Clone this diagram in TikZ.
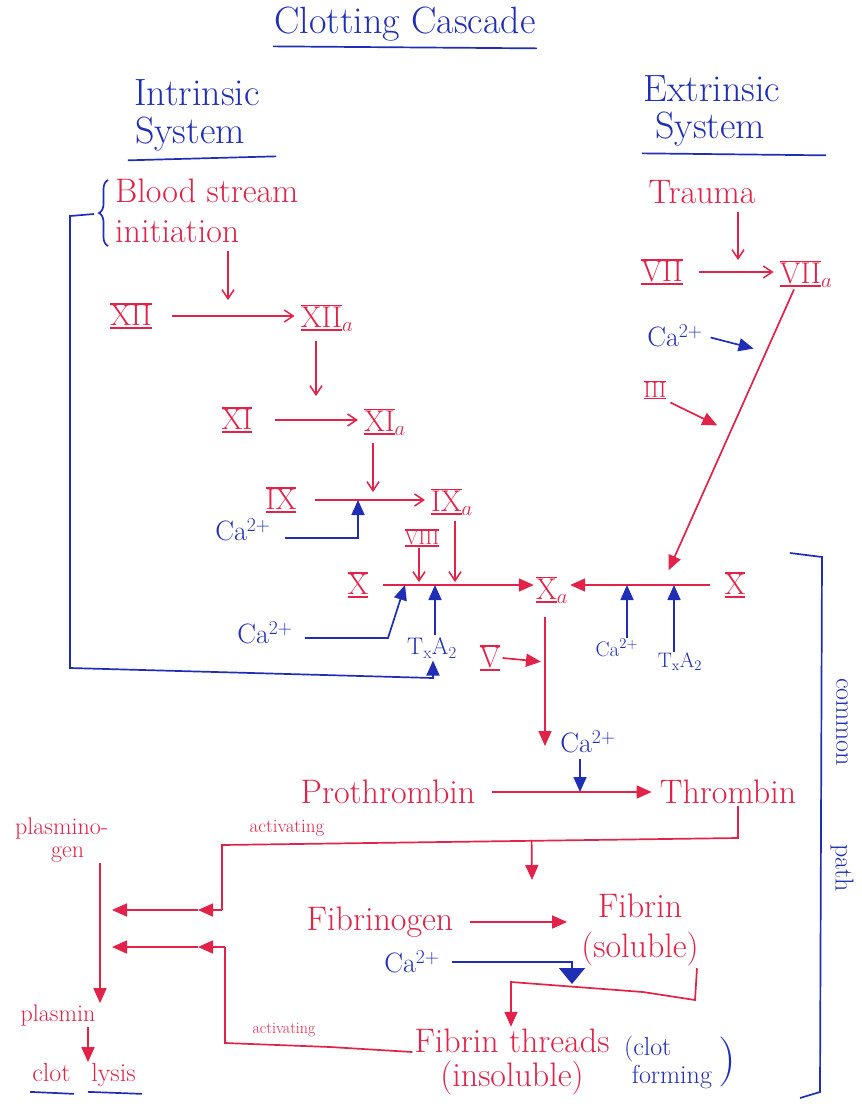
\documentclass[tikz,border=0pt]{standalone}
\usetikzlibrary{arrows.meta}
\usetikzlibrary{decorations.pathreplacing}
\definecolor{penred}{RGB}{226,34,72}
\definecolor{penblue}{RGB}{32,46,182}
\newcommand{\romn}[1]{\setbox0=\hbox{#1}\rlap{\rule[-0.1em]{\wd0}{0.055em}}\rlap{\rule[\dimexpr\ht0+0.02em\relax]{\wd0}{0.055em}}\box0}
\tikzset{
  hdr/.style={text=penblue, font=\fontsize{38}{44}\selectfont, inner sep=1pt},
  lbl/.style={text=penred, font=\fontsize{34}{40}\selectfont, inner sep=2pt},
  rom/.style={text=penred, font=\fontsize{30}{36}\selectfont, inner sep=2pt},
  tiny/.style={text=penred, font=\fontsize{20}{24}\selectfont, inner sep=1pt},
  sml/.style={text=penred, font=\fontsize{24}{24}\selectfont, inner sep=1pt},
  act/.style={text=penred, font=\fontsize{19}{22}\selectfont, inner sep=1pt},
  ca/.style={text=penblue, font=\fontsize{28}{32}\selectfont, inner sep=2pt},
  casm/.style={text=penblue, font=\fontsize{21}{24}\selectfont, inner sep=1pt},
  note/.style={text=penblue, font=\fontsize{26}{32}\selectfont, inner sep=1pt},
  rline/.style={draw=penred, line width=1.7pt},
  bline/.style={draw=penblue, line width=1.7pt},
  rthin/.style={rline, -{Straight Barb[length=9pt,width=12pt,line width=1.5pt]}},
  rarr/.style={rline, -{Triangle[length=15pt,width=13pt]}},
  barr/.style={bline, -{Triangle[length=15pt,width=13pt]}}
}

\begin{document}
\begin{tikzpicture}[x=1pt,y=-1pt]
  \useasboundingbox (0,0) rectangle (862,1104);

  % 坐标点定义
  \coordinate (jvii) at (738,272);
  \coordinate (jxii) at (228,316);
  \coordinate (jxi) at (316,420);
  \coordinate (jix) at (373,500);
  \coordinate (jixc) at (358,500);
  \coordinate (jx1) at (419,585);
  \coordinate (jx2) at (455,585);
  \coordinate (jxc) at (405,585);
  \coordinate (jxt) at (435,585);
  \coordinate (jxr) at (662,585);
  \coordinate (jxrc) at (627,585);
  \coordinate (jxrt) at (674,585);
  \coordinate (jpro) at (545,792);
  \coordinate (jproc) at (580,792);
  \coordinate (kB) at (388,638);
  \coordinate (bt) at (94,214);
  \coordinate (bk1) at (70,216);
  \coordinate (bk2) at (70,668);
  \coordinate (bk3) at (433,678);
  \coordinate (tA) at (738,838);
  \coordinate (tB) at (222,845);
  \coordinate (tC) at (222,910);
  \coordinate (tD) at (198,910);
  \coordinate (tE) at (112,910);
  \coordinate (jfbT) at (532,880);
  \coordinate (fA) at (697,965);
  \coordinate (fB) at (695,1000);
  \coordinate (fC) at (643,992);
  \coordinate (fD) at (511,982);
  \coordinate (cB) at (572,984);
  \coordinate (gA) at (330,1047);
  \coordinate (gB) at (225,1043);
  \coordinate (gC) at (225,947);
  \coordinate (gD) at (198,947);
  \coordinate (gE) at (112,947);
  \coordinate (pX) at (100,900);
  \coordinate (lX) at (88,1040);

  % 标题
  \node [hdr] (title) at (405,24) {Clotting Cascade};
  \node [hdr] (intrA) at (197,93) {Intrinsic};
  \node [hdr] (intrB) at (190,134) {System};
  \node [hdr] (extrA) at (712,89) {Extrinsic};
  \node [hdr] (extrB) at (710,129) {System};

  % 内源途径
  \node [lbl, anchor=west, align=left] (blood) at (113,211) {Blood stream\\initiation};
  \node [rom] (xii) at (131,316) {\romn{XII}};
  \node [rom] (xiia) at (327,318) {\romn{XII}$_a$};
  \node [rom] (xi) at (237,420) {\romn{XI}};
  \node [rom] (xia) at (385,422) {\romn{XI}$_a$};
  \node [rom] (ix) at (281,500) {\romn{IX}};
  \node [rom] (ixa) at (452,502) {\romn{IX}$_a$};
  \node [tiny] (viii) at (422,538) {\romn{VIII}};
  \node [rom] (xl) at (358,585) {\romn{X}};
  \node [rom] (xa) at (552,590) {\romn{X}$_a$};
  \node [ca] (caA) at (243,530) {Ca\textsuperscript{2+}};
  \node [ca] (caB) at (265,633) {Ca\textsuperscript{2+}};
  \node [ca, font=\fontsize{24}{28}\selectfont] (txA) at (432,648) {T\textsubscript{x}A\textsubscript{2}};

  % 外源途径
  \node [lbl] (trauma) at (702,192) {Trauma};
  \node [rom] (vii) at (662,272) {\romn{VII}};
  \node [rom] (viia) at (806,274) {\romn{VII}$_a$};
  \node [ca] (caC) at (675,336) {Ca\textsuperscript{2+}};
  \node [rom, font=\fontsize{22}{26}\selectfont] (iii) at (655,390) {\romn{III}};
  \node [rom] (xr) at (735,585) {\romn{X}};
  \node [casm] (caD) at (617,648) {Ca\textsuperscript{2+}};
  \node [casm] (txB) at (680,662) {T\textsubscript{x}A\textsubscript{2}};

  % 共同途径
  \node [rom] (v) at (490,658) {\romn{V}};
  \node [ca] (caE) at (588,742) {Ca\textsuperscript{2+}};
  \node [lbl] (pro) at (388,792) {Prothrombin};
  \node [lbl] (thr) at (728,792) {Thrombin};
  \node [lbl] (fbg) at (380,922) {Fibrinogen};
  \node [lbl, align=center] (fib) at (640,930) {Fibrin\\(soluble)};
  \node [ca] (caF) at (412,962) {Ca\textsuperscript{2+}};
  \node [lbl, align=center] (fthr) at (512,1062) {Fibrin threads\\[-6pt](insoluble)};
  \node [note, align=left] (clot) at (668,1062) {(clot\\[-4pt]\hspace*{0.3em}forming};
  \node [note, font=\fontsize{50}{50}\selectfont] (paren) at (727,1062) {)};
  \node [note, rotate=-90] (comA) at (842,722) {common};
  \node [note, rotate=-90] (comB) at (842,868) {path};

  % 纤溶
  \node [sml, anchor=west, align=left] (plg) at (14,840) {plasmino-\\[-1pt]\hspace*{1.5em}gen};
  \node [sml] (pls) at (58,1015) {plasmin};
  \node [sml, font=\fontsize{26}{28}\selectfont] (lysis) at (84,1075) {clot\hspace{0.8em}lysis};
  \node [act] (actA) at (287,828) {activating};
  \node [act, font=\fontsize{16}{20}\selectfont] (actB) at (284,1030) {activating};

  % 下划线与括号
  \draw[bline] ([yshift=-4pt]title.south west) -- ([yshift=-6pt]title.south east);
  \draw[bline] ([xshift=-6pt,yshift=-8pt]intrB.south west) -- ([xshift=30pt,yshift=-4pt]intrB.south east);
  \draw[bline] ([xshift=-12pt,yshift=-6pt]extrB.south west) -- ([xshift=60pt,yshift=-8pt]extrB.south east);
  \draw[bline] ([xshift=-54pt,yshift=-4pt]lysis.south) -- ([xshift=-10pt,yshift=-6pt]lysis.south);
  \draw[bline] ([xshift=4pt,yshift=-4pt]lysis.south) -- ([xshift=58pt,yshift=-6pt]lysis.south);
  \draw[bline, decorate, decoration={brace, amplitude=9pt}] (108,246) -- (108,180);
  \draw[bline] (790,553) -- (822,557) -- (820,1092) -- (800,1098);

  % 反应箭头
  \draw[rthin, shorten <=18pt, shorten >=4pt] (xii.east) -- (xii.east -| xiia.west);
  \draw[rthin, shorten <=20pt, shorten >=4pt] (xi.east) -- (xi.east -| xia.west);
  \draw[rthin, shorten <=16pt, shorten >=4pt] (ix.east) -- (ix.east -| ixa.west);
  \draw[rthin, shorten <=14pt, shorten >=4pt] (vii.east) -- (vii.east -| viia.west);
  \draw[rthin, shorten <=6pt] (blood.south -| jxii) -- ([yshift=16pt]jxii);
  \draw[rthin, shorten <=6pt] (trauma.south -| jvii) -- ([yshift=12pt]jvii);
  \draw[rthin, shorten <=8pt] (xiia.south -| jxi) -- ([yshift=24pt]jxi);
  \draw[rthin, shorten <=6pt] (xia.south -| jix) -- ([yshift=8pt]jix);
  \draw[rthin] (viii.south -| jx1) -- ([yshift=3pt]jx1);
  \draw[rthin, shorten <=4pt] (ixa.south -| jx2) -- ([yshift=3pt]jx2);
  \draw[rarr, shorten <=12pt] (xl.east) -- (xl.east -| xa.west);
  \draw[rarr, shorten <=12pt] (xr.west) -- (xr.west -| xa.east);
  \draw[rline, -{Triangle[length=15pt,width=13pt]}, shorten >=16pt] ([xshift=-12pt]viia.south)
    -- coordinate[pos=0.2] (jca) coordinate[pos=0.46] (jiii) (jxr);
  \draw[barr, shorten <=6pt] (caC.east) -- ([xshift=-14pt]jca);
  \draw[rarr, shorten <=2pt] (iii.south east) -- ([xshift=-16pt]jiii);

  % 钙离子与 TxA2
  \draw[barr, shorten <=12pt] ([yshift=-8pt]caA.east) -- ([yshift=-8pt]caA.east -| jixc) -- (jixc);
  \draw[barr, shorten <=10pt] ([yshift=-5pt]caB.east) -- (kB) -- (jxc);
  \draw[barr] (txA.north -| jxt) -- (jxt);
  \draw[bline, -{Triangle[length=15pt,width=13pt]}] (bt) -- (bk1) -- (bk2) -- (bk3) -- (txA.south -| bk3);
  \draw[barr] (caD.north -| jxrc) -- (jxrc);
  \draw[barr] (txB.north -| jxrt) -- (jxrt);

  % 共同途径连线
  \draw[rarr, shorten <=12pt] (xa.south -| jpro) -- coordinate[pos=0.4] (jv) ([yshift=46pt]jpro);
  \draw[rarr] (v.east) -- ([xshift=-4pt]jv);
  \draw[barr, shorten <=4pt] (caE.south -| jproc) -- (jproc);
  \draw[rarr, shorten <=14pt, shorten >=6pt] (pro.east) -- (pro.east -| thr.west);
  \draw[rline] (thr.south -| tA) -- (tA) -- coordinate[pos=0.4] (jfb) (tB) -- (tC);
  \draw[rarr] (tC) -- (tD);
  \draw[rarr] (tD) -- (tE);
  \draw[rarr] (jfb) -- (jfbT);
  \draw[rarr, shorten <=14pt, shorten >=12pt] (fbg.east) -- (fbg.east -| fib.west);
  \draw[rarr] (fib.south -| fA) -- (fB) -- (fC) -- (fD) -- (fthr.north -| fD);
  \draw[bline, -{Triangle[length=16pt,width=26pt]}, shorten <=10pt] (caF.east) -- (caF.east -| cB) -- (cB);
  \draw[rline] ([yshift=10pt]fthr.west) -- (gA) -- (gB) -- (gC);
  \draw[rarr] (gC) -- (gD);
  \draw[rarr] (gD) -- (gE);
  \draw[rarr] (plg.south -| pX) -- (pls.north -| pX);
  \draw[rarr] (pls.south -| lX) -- (lysis.north -| lX);
\end{tikzpicture}
\end{document}
